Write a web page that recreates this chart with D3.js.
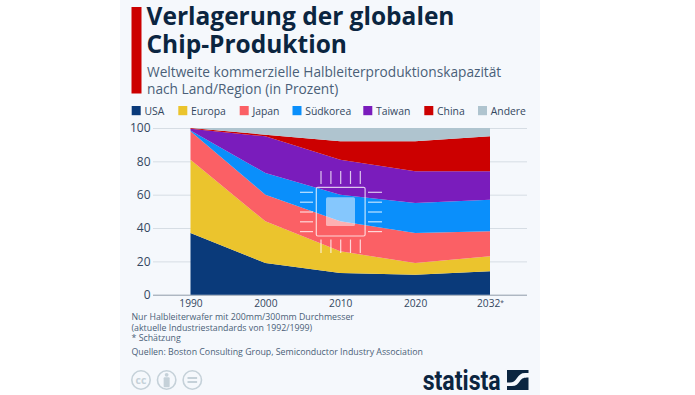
<!DOCTYPE html>
<html>
<head>
<meta charset="utf-8">
<script src="https://cdn.jsdelivr.net/npm/d3@7"></script>
<style>
  html, body { margin: 0; padding: 0; background: #fff; }
  text { font-family: "Open Sans", sans-serif; }
</style>
</head>
<body>
<div id="chart"></div>
<script>
const years = ["1990", "2000", "2010", "2020", "2032"];
const regions = ["USA", "Europa", "Japan", "Südkorea", "Taiwan", "China", "Andere"];
const colors = ["#0a3a7a", "#ebc42d", "#fb6065", "#0a8ffb", "#7a1cbc", "#cc0000", "#afc4cf"];

// shares per region
const usa = [37, 19, 13, 12, 14];
const europa = [44, 25, 13, 7, 9];
const japan = [17, 16, 18, 18, 15];
const suedkorea = [0.5, 13, 16, 18, 19];
const taiwan = [1, 22, 21, 19, 17];
const china = [0.5, 1, 11, 18, 21];
const andere = [0, 4, 8, 8, 5];
const seriesValues = [usa, europa, japan, suedkorea, taiwan, china, andere];

const titleLines = ["Verlagerung der globalen", "Chip-Produktion"];
const subtitleLines = [
  "Weltweite kommerzielle Halbleiterproduktionskapazität",
  "nach Land/Region (in Prozent)",
];
const noteLines = [
  "Nur Halbleiterwafer mit 200mm/300mm Durchmesser",
  "(aktuelle Industriestandards von 1992/1999)",
  "* Schätzung",
];
const sourceLine = "Quellen: Boston Consulting Group, Semiconductor Industry Association";
const legendX = [131.7, 178.3, 239.7, 292.5, 363.3, 424.3, 478];
const yTicks = [0, 20, 40, 60, 80, 100];

const width = 695, height = 395;
const svg = d3.select("#chart").append("svg")
  .attr("width", width).attr("height", height)
  .style("display", "block");

// panel
svg.append("rect").attr("x", 120).attr("y", 0).attr("width", 420).attr("height", height).attr("fill", "#f5f8fc");

// header
svg.append("rect").attr("x", 131.5).attr("y", 7).attr("width", 10).attr("height", 86.5).attr("fill", "#cc0000");
svg.selectAll(".title").data(titleLines).join("text")
  .attr("class", "title")
  .attr("x", 146.5).attr("y", (d, i) => 25 + i * 28)
  .attr("font-size", 24.5).attr("font-weight", 700).attr("fill", "#0b2540")
  .text((d) => d);
svg.selectAll(".subtitle").data(subtitleLines).join("text")
  .attr("class", "subtitle")
  .attr("x", 147).attr("y", (d, i) => 77.3 + i * 17)
  .attr("font-size", 13.7).attr("fill", "#4a5f78")
  .text((d) => d);

// legend
const legend = svg.selectAll(".legend").data(regions).join("g")
  .attr("class", "legend")
  .attr("transform", (d, i) => `translate(${legendX[i]},106)`);
legend.append("rect").attr("width", 9).attr("height", 9.2).attr("fill", (d, i) => colors[i]);
legend.append("text").attr("x", 12.7).attr("y", 9)
  .attr("font-size", 10.4).attr("fill", "#33475f").text((d) => d);

// scales
const x = d3.scalePoint().domain(years).range([190.5, 490]);
const y = d3.scaleLinear().domain([0, 100]).range([294.7, 128]);

const table = years.map((year, i) => {
  const row = { year };
  regions.forEach((r, j) => (row[r] = seriesValues[j][i]));
  return row;
});
const stacked = d3.stack().keys(regions)(table);

// grid + y axis
const yAxis = svg.append("g")
  .attr("transform", "translate(527,0)")
  .call(d3.axisLeft(y).tickValues(yTicks).tickSize(374).tickPadding(2.5));
yAxis.select(".domain").remove();
yAxis.selectAll(".tick line").attr("stroke", (d) => (d === 0 ? "#8e9aa8" : "#d6dde4")).attr("stroke-width", 1);
yAxis.selectAll(".tick text").attr("font-size", 12).attr("fill", "#33475f").attr("font-family", null);

// areas
const area = d3.area()
  .x((d) => x(d.data.year))
  .y0((d) => y(d[0]))
  .y1((d) => y(d[1]));
svg.append("g").selectAll("path").data(stacked).join("path")
  .attr("fill", (d, i) => colors[i])
  .attr("d", area);

// x axis, last year is an estimate
const xAxis = svg.append("g")
  .attr("transform", "translate(0,294.7)")
  .call(d3.axisBottom(x).tickSize(0).tickPadding(5));
xAxis.select(".domain").remove();
xAxis.selectAll(".tick text").attr("font-size", 10.2).attr("fill", "#33475f").attr("font-family", null);
xAxis.selectAll(".tick text").filter((d) => d === "2032")
  .append("tspan").attr("font-size", 6.5).attr("dy", -2).text("*");

// chip icon
const chip = svg.append("g").attr("transform", "translate(340.7,212)");
const pins = [-19.7, -9.8, 0, 9.8, 19.6];
chip.append("rect").attr("x", -24.4).attr("y", -24.7).attr("width", 48.8).attr("height", 48.7).attr("rx", 1.5)
  .attr("fill", "none").attr("stroke", "#fff").attr("stroke-opacity", 0.75).attr("stroke-width", 1.2);
chip.append("rect").attr("x", -14.7).attr("y", -14.7).attr("width", 29).attr("height", 28.7).attr("rx", 1.5)
  .attr("fill", "#fff").attr("fill-opacity", 0.5);
const pinLines = [];
pins.forEach((p) => {
  pinLines.push([p, -41, p, -28], [p, 27.5, p, 41], [-40.7, p, -27.7, p], [27.3, p, 41.3, p]);
});
chip.selectAll("line").data(pinLines).join("line")
  .attr("x1", (d) => d[0]).attr("y1", (d) => d[1])
  .attr("x2", (d) => d[2]).attr("y2", (d) => d[3])
  .attr("stroke", "#fff").attr("stroke-opacity", 0.75).attr("stroke-width", 1.2);

// notes
svg.selectAll(".note").data(noteLines).join("text")
  .attr("class", "note")
  .attr("x", 131.5).attr("y", (d, i) => 320 + i * 10.7)
  .attr("font-size", 8.8).attr("fill", "#4a5f78")
  .text((d) => d);
svg.append("text").attr("x", 131.5).attr("y", 355)
  .attr("font-size", 8.8).attr("fill", "#4a5f78").text(sourceLine);

// licence icons
const iconGrey = "#c5d1d9";
const cc = svg.selectAll(".cc").data(["cc", "by", "eq"]).join("g")
  .attr("class", "cc")
  .attr("transform", (d, i) => `translate(${141 + i * 25.65},380)`);
cc.append("circle").attr("r", 9.2).attr("fill", "none").attr("stroke", iconGrey).attr("stroke-width", 1.6);
cc.filter((d) => d === "cc").append("text").attr("text-anchor", "middle").attr("y", 3.6)
  .attr("font-size", 10.5).attr("font-weight", 700).attr("fill", iconGrey).text("cc");
const by = cc.filter((d) => d === "by");
by.append("circle").attr("cy", -5.2).attr("r", 1.9).attr("fill", iconGrey);
by.append("rect").attr("x", -3).attr("y", -2.7).attr("width", 6).attr("height", 10).attr("rx", 1).attr("fill", iconGrey);
const eq = cc.filter((d) => d === "eq");
eq.append("rect").attr("x", -4.8).attr("y", -3).attr("width", 9.6).attr("height", 2).attr("fill", iconGrey);
eq.append("rect").attr("x", -4.8).attr("y", 1).attr("width", 9.6).attr("height", 2).attr("fill", iconGrey);

// statista logo
svg.append("text").attr("x", 422.7).attr("y", 390)
  .attr("font-size", 27).attr("font-weight", 700).attr("fill", "#0b2540")
  .attr("textLength", 78).attr("lengthAdjust", "spacingAndGlyphs")
  .style("font-family", "Roboto, sans-serif")
  .text("statista");
svg.append("path")
  .attr("fill", "#0b2540")
  .attr("d", "M507 370H528.5V373H525C521 373 519 375 517 378C515 381 513 382.5 510 382.5H507Z M528.5 377.5V390H507V386H512C516 386 518 384 520 381C522 378 524 377.5 528.5 377.5Z");
</script>
</body>
</html>
